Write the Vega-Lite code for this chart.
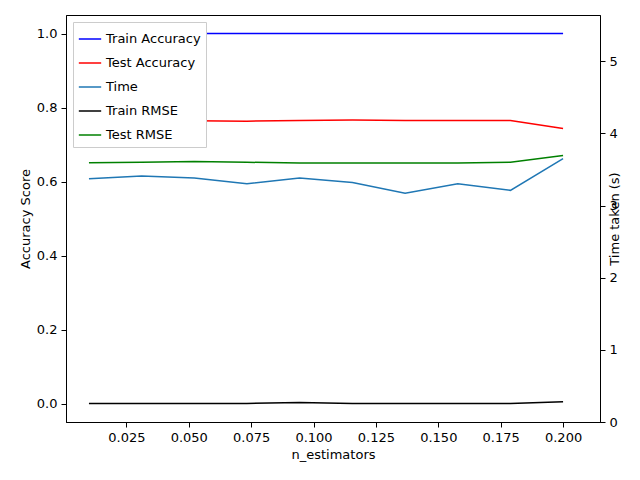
{
"$schema":"https://vega.github.io/schema/vega-lite/v6.json",
"autosize":{"type":"none"},
"padding":{"left":66,"top":15,"right":40,"bottom":58},
"width":534,"height":407,
"config":{"font":"DejaVu Sans","view":{"stroke":"black"},"axis":{"grid":false,"domainColor":"black","tickColor":"black","labelFontSize":13,"titleFontSize":13,"titleFontWeight":"normal","labelColor":"black","titleColor":"black","tickSize":5,"labelPadding":4}},
"data":{"values":[
{"x":0.01,"s":"Train Accuracy","v":1.0},{"x":0.0311,"s":"Train Accuracy","v":1.0},{"x":0.0522,"s":"Train Accuracy","v":1.0},{"x":0.0733,"s":"Train Accuracy","v":1.0},{"x":0.0944,"s":"Train Accuracy","v":1.0},{"x":0.1156,"s":"Train Accuracy","v":1.0},{"x":0.1367,"s":"Train Accuracy","v":1.0},{"x":0.1578,"s":"Train Accuracy","v":1.0},{"x":0.1789,"s":"Train Accuracy","v":1.0},{"x":0.2,"s":"Train Accuracy","v":1.0},
{"x":0.01,"s":"Test Accuracy","v":0.764},{"x":0.0311,"s":"Test Accuracy","v":0.764},{"x":0.0522,"s":"Test Accuracy","v":0.764},{"x":0.0733,"s":"Test Accuracy","v":0.763},{"x":0.0944,"s":"Test Accuracy","v":0.765},{"x":0.1156,"s":"Test Accuracy","v":0.766},{"x":0.1367,"s":"Test Accuracy","v":0.765},{"x":0.1578,"s":"Test Accuracy","v":0.765},{"x":0.1789,"s":"Test Accuracy","v":0.765},{"x":0.2,"s":"Test Accuracy","v":0.743},
{"x":0.01,"s":"Time","v":3.37},{"x":0.0311,"s":"Time","v":3.41},{"x":0.0522,"s":"Time","v":3.38},{"x":0.0733,"s":"Time","v":3.30},{"x":0.0944,"s":"Time","v":3.38},{"x":0.1156,"s":"Time","v":3.32},{"x":0.1367,"s":"Time","v":3.17},{"x":0.1578,"s":"Time","v":3.30},{"x":0.1789,"s":"Time","v":3.21},{"x":0.2,"s":"Time","v":3.65},
{"x":0.01,"s":"Train RMSE","v":0.0},{"x":0.0311,"s":"Train RMSE","v":0.0},{"x":0.0522,"s":"Train RMSE","v":0.0},{"x":0.0733,"s":"Train RMSE","v":0.0},{"x":0.0944,"s":"Train RMSE","v":0.003},{"x":0.1156,"s":"Train RMSE","v":0.0},{"x":0.1367,"s":"Train RMSE","v":0.0},{"x":0.1578,"s":"Train RMSE","v":0.0},{"x":0.1789,"s":"Train RMSE","v":0.0},{"x":0.2,"s":"Train RMSE","v":0.005},
{"x":0.01,"s":"Test RMSE","v":0.651},{"x":0.0311,"s":"Test RMSE","v":0.652},{"x":0.0522,"s":"Test RMSE","v":0.654},{"x":0.0733,"s":"Test RMSE","v":0.652},{"x":0.0944,"s":"Test RMSE","v":0.650},{"x":0.1156,"s":"Test RMSE","v":0.650},{"x":0.1367,"s":"Test RMSE","v":0.650},{"x":0.1578,"s":"Test RMSE","v":0.650},{"x":0.1789,"s":"Test RMSE","v":0.652},{"x":0.2,"s":"Test RMSE","v":0.670}
]},
"encoding":{
"x":{"field":"x","type":"quantitative","title":"n_estimators","scale":{"domain":[0.0008,0.2148],"nice":false,"zero":false},"axis":{"values":[0.025,0.05,0.075,0.1,0.125,0.15,0.175,0.2],"format":".3f"}},
"color":{"field":"s","type":"nominal","sort":["Train Accuracy","Test Accuracy","Time","Train RMSE","Test RMSE"],"scale":{"domain":["Train Accuracy","Test Accuracy","Time","Train RMSE","Test RMSE"],"range":["blue","red","#1f77b4","black","green"]},"legend":{"title":null,"orient":"top-left","symbolType":"stroke","symbolSize":500,"symbolStrokeWidth":1.5,"labelFontSize":13,"rowPadding":5,"fillColor":"white","strokeColor":"#cccccc","padding":5,"offset":7,"labelLimit":200}}
},
"layer":[
{"transform":[{"filter":"datum.s !== 'Time'"}],"mark":{"type":"line","strokeWidth":1.5},
"encoding":{"y":{"field":"v","type":"quantitative","title":"Accuracy Score","scale":{"domain":[-0.05,1.05],"nice":false},"axis":{"values":[0,0.2,0.4,0.6,0.8,1.0],"format":".1f"}}}},
{"transform":[{"filter":"datum.s === 'Time'"}],"mark":{"type":"line","strokeWidth":1.5},
"encoding":{"y":{"field":"v","type":"quantitative","title":"Time taken (s)","scale":{"domain":[0,5.64],"nice":false},"axis":{"orient":"right","values":[0,1,2,3,4,5],"titleAngle":270}}}}
],
"resolve":{"scale":{"y":"independent"},"axis":{"y":"independent"}}
}
